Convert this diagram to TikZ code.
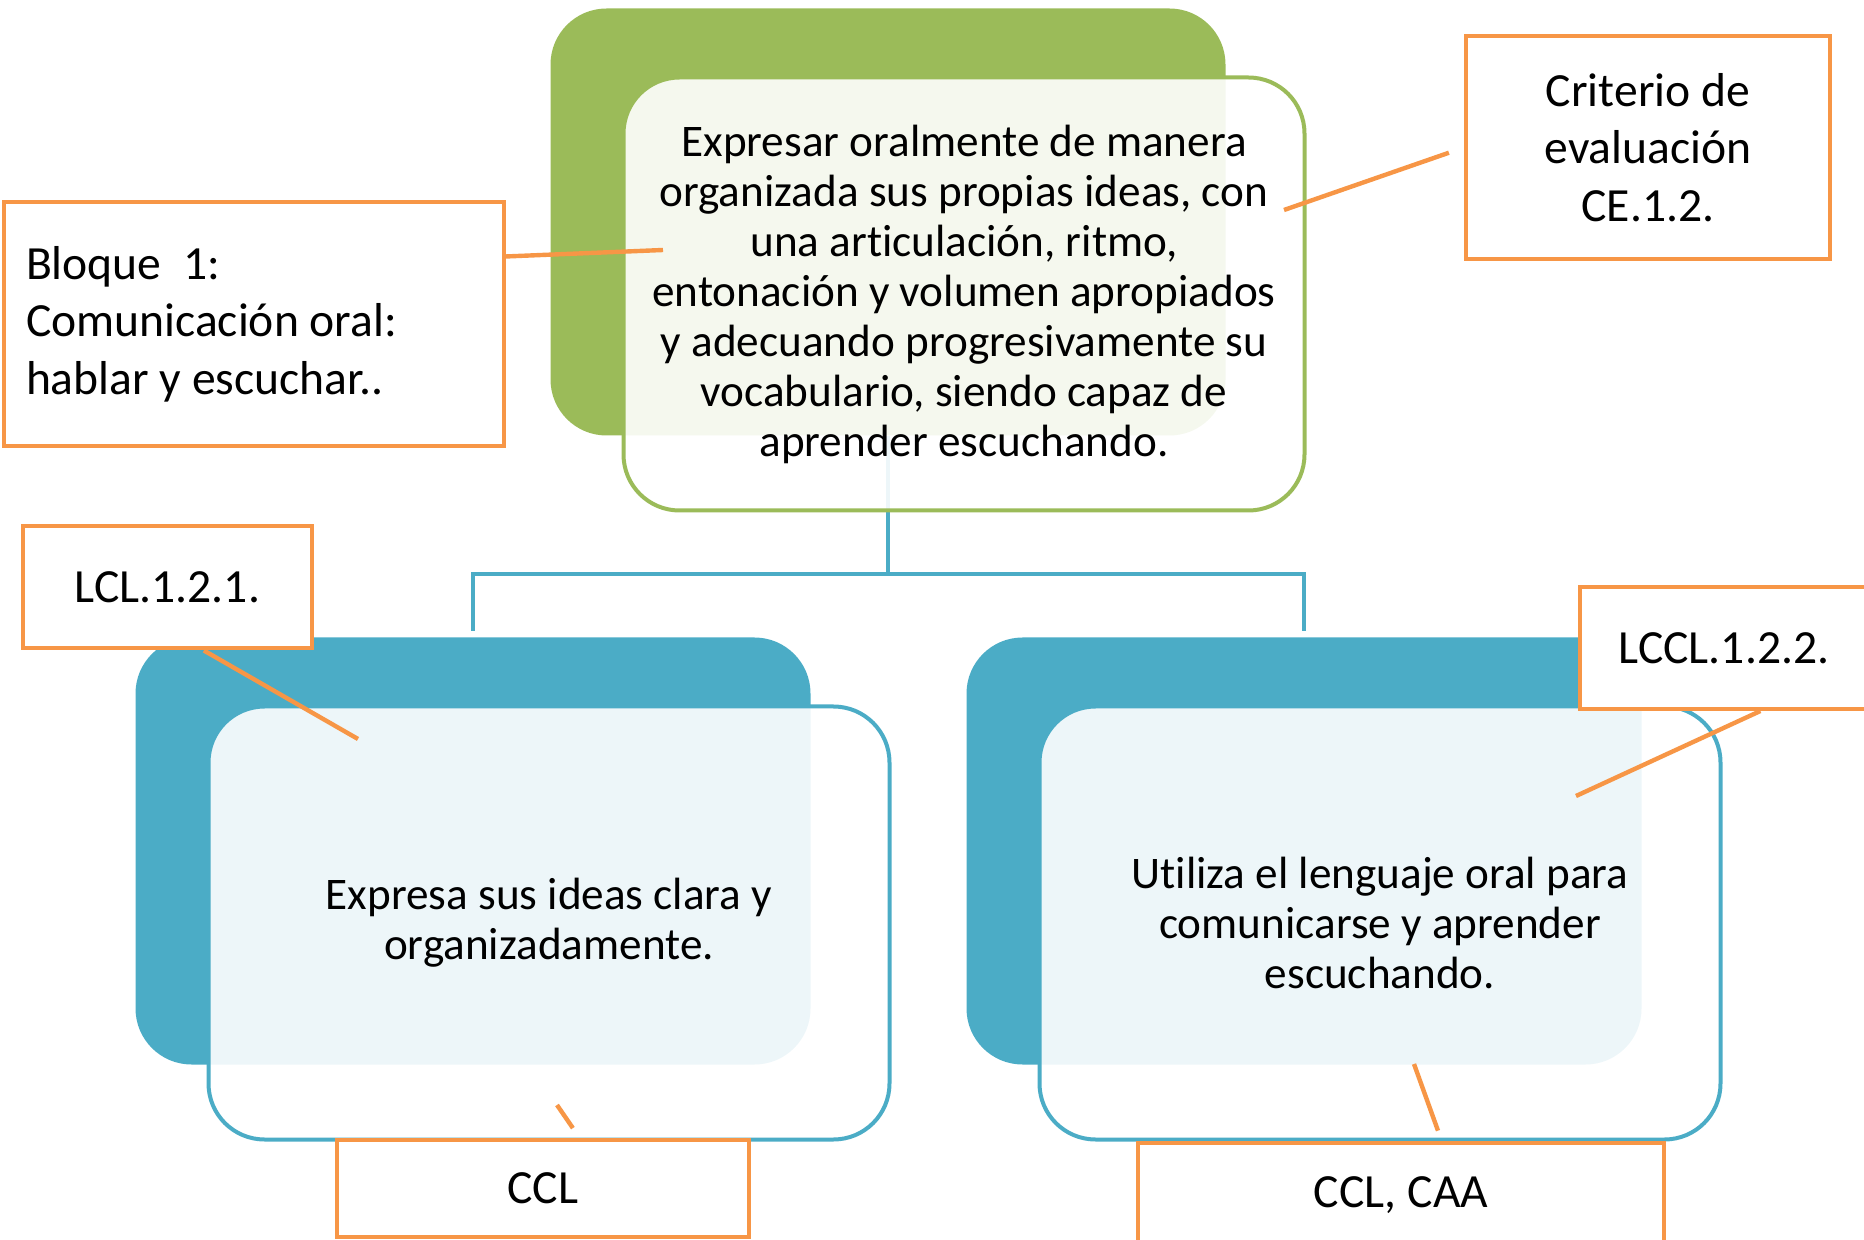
\documentclass[tikz,border=0pt]{standalone}
\usepackage{fontspec}
\setmainfont{Carlito}[Ligatures=NoCommon]
\usepackage{tikz}
\usetikzlibrary{calc}
\definecolor{ogreen}{HTML}{9BBB59}
\definecolor{oblue}{HTML}{4BACC6}
\definecolor{oorange}{HTML}{F79646}

\begin{document}
\begin{tikzpicture}[x=0.5pt, y=-0.5pt,
  backbox/.style={rounded corners=28pt, minimum width=337.5pt, minimum height=213.5pt, inner sep=0pt},
  frontbox/.style={rounded corners=28pt, line width=2pt, fill=white, fill opacity=0.9, text opacity=1,
    minimum width=340.5pt, minimum height=216.5pt, inner sep=0pt, align=center,
    font=\fontsize{22.6}{25}\selectfont},
  tagbox/.style={draw=oorange, line width=2pt, fill=white, inner sep=0pt, align=center,
    font=\fontsize{23.8}{28.7}\selectfont},
  tagline/.style={oorange, line width=2.2pt},
  treeline/.style={oblue, line width=2pt}]
\useasboundingbox (0,0) rectangle (1864,1240);

\node[backbox, fill=ogreen] (topback) at (888,222) {};
\node[backbox, fill=oblue] (leftback) at (473,851) {};
\node[backbox, fill=oblue] (rightback) at (1304,851) {};

\draw[treeline] (topback.south) -- ++(0,138) coordinate (fork) -| ([yshift=3pt]leftback.north);
\draw[treeline] (fork) -| ([yshift=3pt]rightback.north);

\node[frontbox, draw=ogreen] (topfront) at ($(topback)+(76,72)$) {Expresar oralmente de manera\\organizada sus propias ideas, con\\una articulación, ritmo,\\entonación y volumen apropiados\\y adecuando progresivamente su\\vocabulario, siendo capaz de\\aprender escuchando.};
\node[frontbox, draw=oblue] (leftfront) at ($(leftback)+(76,72)$) {Expresa sus ideas clara y\\organizadamente.};
\node[frontbox, draw=oblue] (rightfront) at ($(rightback)+(76,72)$) {Utiliza el lenguaje oral para\\comunicarse y aprender\\escuchando.};

\node[tagbox, minimum width=250pt, minimum height=122pt, text width=228pt, align=flush left] (bloque) at (254,324) {Bloque\ \ 1:\\Comunicación oral:\\hablar y escuchar..};
\node[tagbox, minimum width=182pt, minimum height=111.5pt] (criterio) at (1648,147.5) {Criterio de\\evaluación\\CE.1.2.};
\node[tagbox, minimum width=144.5pt, minimum height=61pt] (lcl1) at (167.5,587.5) {LCL.1.2.1.};
\node[tagbox, minimum width=144pt, minimum height=61pt] (lcl2) at (1724,648) {LCCL.1.2.2.};
\node[tagbox, minimum width=206pt, minimum height=48.5pt] (ccl1) at (543,1188.5) {CCL};
\node[tagbox, minimum width=263pt, minimum height=52pt] (ccl2) at (1401,1195) {CCL, CAA};

\coordinate (bloquept) at (663,250);
\coordinate (critpt) at (1284,210);
\coordinate (lcl1pt) at (358,739);
\coordinate (lcl2pt) at (1576,796);
\coordinate (ccl1pt) at (557,1105);
\coordinate (ccl2pt) at (1414,1064);
\draw[tagline] (bloque.15) -- (bloquept);
\draw[tagline, shorten <=8pt] (criterio.west) -- (critpt);
\draw[tagline] (lcl1.-60) -- (lcl1pt);
\draw[tagline] (lcl2.-60) -- (lcl2pt);
\draw[tagline, shorten <=6pt] (ccl1.54) -- (ccl1pt);
\draw[tagline, shorten <=5.5pt] (ccl2.53) -- (ccl2pt);
\end{tikzpicture}
\end{document}
